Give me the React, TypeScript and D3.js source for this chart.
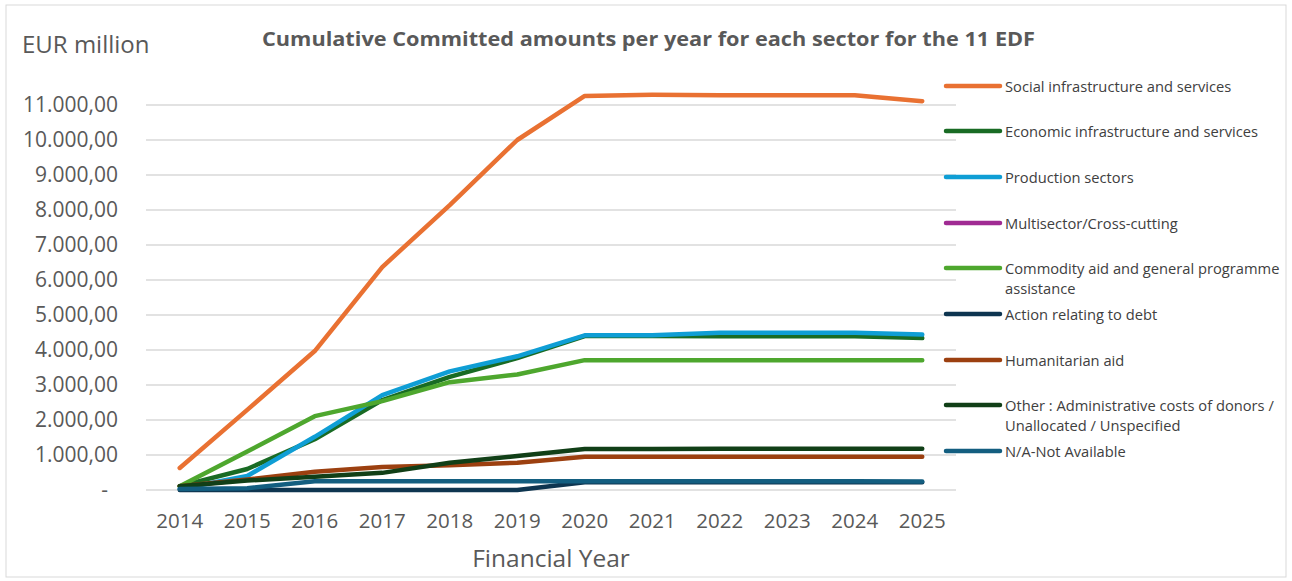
import React from "react";
import * as d3 from "d3";

const years = ["2014","2015","2016","2017","2018","2019","2020","2021","2022","2023","2024","2025"];
const seriesNames = [
  "Social infrastructure and services",
  "Economic infrastructure and services",
  "Production sectors",
  "Multisector/Cross-cutting",
  "Commodity aid and general programme assistance",
  "Action relating to debt",
  "Humanitarian aid",
  "Other : Administrative costs of donors / Unallocated / Unspecified",
  "N/A-Not Available",
];
const legendLines = [
  ["Social infrastructure and services"],
  ["Economic infrastructure and services"],
  ["Production sectors"],
  ["Multisector/Cross-cutting"],
  ["Commodity aid and general programme", "assistance"],
  ["Action relating to debt"],
  ["Humanitarian aid"],
  ["Other : Administrative costs of donors /", "Unallocated / Unspecified"],
  ["N/A-Not Available"],
];
const social = [630, 2290, 3970, 6370, 8140, 10000, 11260, 11290, 11280, 11280, 11280, 11110];
const economic = [110, 600, 1450, 2570, 3230, 3770, 4400, 4400, 4390, 4390, 4390, 4340];
const production = [30, 400, 1520, 2710, 3390, 3820, 4420, 4420, 4490, 4490, 4490, 4440];
const multisector: (number | null)[] = [null, null, null, null, null, null, null, null, null, null, null, null];
const commodity = [110, 1100, 2110, 2540, 3080, 3300, 3710, 3710, 3710, 3710, 3710, 3710];
const debt = [0, 0, 0, 0, 0, 0, 220, 220, 220, 220, 220, 220];
const humanitarian = [110, 300, 520, 660, 710, 780, 950, 950, 950, 950, 950, 950];
const other = [110, 270, 380, 490, 780, 970, 1170, 1170, 1180, 1180, 1180, 1180];
const notAvailable = [30, 50, 250, 250, 250, 250, 250, 250, 250, 250, 250, 240];
const yTicks = [0, 1000, 2000, 3000, 4000, 5000, 6000, 7000, 8000, 9000, 10000, 11000];
const colors = ["#E97132", "#196B24", "#0F9ED5", "#A02B93", "#4EA72E", "#0E3550", "#9C4010", "#113F17", "#135E80"];

const allSeries = [social, economic, production, multisector, commodity, debt, humanitarian, other, notAvailable];

const locale = d3.formatLocale({ decimal: ",", thousands: ".", grouping: [3], currency: ["", "€"] });
const fmt = locale.format(",.2f");

export default function App() {
  const W = 1292, H = 581;
  const x = d3.scalePoint<string>().domain(years).range([146, 956]).padding(0.5);
  const y = d3.scaleLinear().domain([0, 11000]).range([490, 105]);
  const line = d3
    .line<number | null>()
    .defined((d) => d != null)
    .x((_, i) => x(years[i]) as number)
    .y((d) => y(d as number));
  const font = "'Open Sans', sans-serif";
  const txt = "#595959";
  return (
    <svg width={W} height={H} style={{ position: "absolute", left: 0, top: 0, background: "#fff" }} fontFamily={font}>
      <rect x={6} y={5} width={1280} height={572} fill="#fff" stroke="#d9d9d9" strokeWidth={1} />
      <text x={262} y={46} fontSize={20} fontWeight="bold" fill={txt} textLength={773} lengthAdjust="spacingAndGlyphs">
        Cumulative Committed amounts per year for each sector for the 11 EDF
      </text>
      <text x={22} y={53} fontSize={24} fill={txt}>EUR million</text>
      {yTicks.map((t) => (
        <g key={t}>
          <line x1={146} x2={956} y1={y(t)} y2={y(t)} stroke="#d9d9d9" strokeWidth={1.5} />
          <text x={t === 0 ? 108 : 118} y={y(t) + 7} textAnchor="end" fontSize={21} fill={txt}>
            {t === 0 ? "-" : fmt(t)}
          </text>
        </g>
      ))}
      {years.map((yr) => (
        <text key={yr} x={x(yr)} y={528} textAnchor="middle" fontSize={20.5} fill={txt}>{yr}</text>
      ))}
      <text x={551} y={567} textAnchor="middle" fontSize={24.5} fill={txt}>Financial Year</text>
      {allSeries.map((s, i) => (
        <path key={i} d={line(s) || ""} fill="none" stroke={colors[i]} strokeWidth={4.5} strokeLinecap="round" strokeLinejoin="round" />
      ))}
      {seriesNames.map((n, i) => {
        const ly = [86, 131, 177, 223, 268, 314, 360, 405, 451][i];
        return (
          <g key={n}>
            <line x1={946} x2={1000} y1={ly} y2={ly} stroke={colors[i]} strokeWidth={4.5} strokeLinecap="round" />
            {legendLines[i].map((l, j) => (
              <text key={j} x={1005} y={ly + 5.5 + j * 20} fontSize={14.7} fill="#404040">{l}</text>
            ))}
          </g>
        );
      })}
    </svg>
  );
}
